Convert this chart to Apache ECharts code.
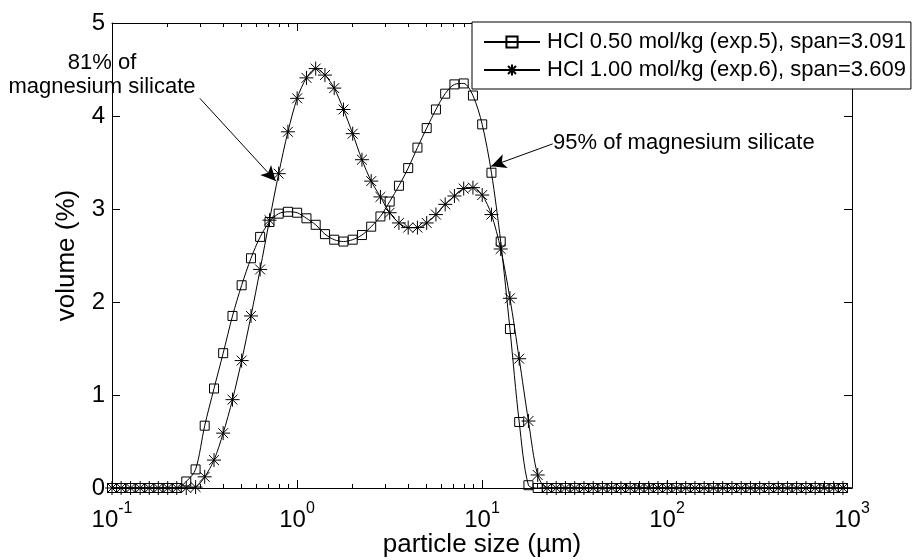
<!DOCTYPE html>
<html><head><meta charset="utf-8">
<script src="https://cdn.jsdelivr.net/npm/echarts@6/dist/echarts.min.js"></script>
<style>html,body{margin:0;padding:0;background:#fff}#c{width:914px;height:560px}</style>
</head><body><div id="c"></div><script>
// ---- data ----
const particleSize = [0.100,0.112,0.126,0.142,0.159,0.178,0.200,0.224,0.252,0.283,0.317,0.356,0.399,0.448,0.502,0.564,0.632,0.710,0.796,0.893,
  1.002,1.125,1.262,1.416,1.589,1.783,2.000,2.244,2.518,2.825,3.170,3.557,3.991,4.477,5.024,5.637,6.325,7.096,7.962,8.934,
  10.024,11.247,12.619,14.159,15.887,17.825,20.000,22.440,25.179,28.251,31.698,35.566,39.905,44.774,50.238,56.368,63.246,70.963,79.621,89.337,
  100.237,112.468,126.191,141.589,158.866,178.250,200.000,224.404,251.785,282.508,316.979,355.656,399.052,447.744,502.377,563.677,632.456,709.627,796.214,893.367,
  1002.374];
const exp5Volume = [0,0,0,0,0,0,0,0,0.07,0.20,0.67,1.07,1.45,1.85,2.18,2.47,2.70,2.86,2.95,2.97,
  2.96,2.90,2.83,2.73,2.67,2.65,2.67,2.72,2.81,2.92,3.08,3.25,3.44,3.66,3.87,4.07,4.24,4.34,4.35,4.22,
  3.91,3.39,2.65,1.71,0.71,0.03,0,0,0,0,0,0,0,0,0,0,0,0,0,0,
  0,0,0,0,0,0,0,0,0,0,0,0,0,0,0,0,0,0,0,0,
  0];
const exp6Volume = [0,0,0,0,0,0,0,0,0,0.01,0.12,0.30,0.59,0.95,1.37,1.85,2.35,2.88,3.38,3.83,
  4.19,4.41,4.51,4.44,4.30,4.07,3.81,3.53,3.30,3.13,2.96,2.85,2.80,2.80,2.85,2.94,3.05,3.14,3.22,3.23,
  3.15,2.94,2.57,2.04,1.39,0.72,0.14,0,0,0,0,0,0,0,0,0,0,0,0,0,
  0,0,0,0,0,0,0,0,0,0,0,0,0,0,0,0,0,0,0,0,
  0];
const seriesNames = ['HCl 0.50 mol/kg (exp.5), span=3.091', 'HCl 1.00 mol/kg (exp.6), span=3.609'];
const xMajorTicks = [0.1, 1, 10, 100, 1000];
const xTickExponents = ['-1', '0', '1', '2', '3'];
const xMinorTicks = [0.2,0.3,0.4,0.5,0.6,0.7,0.8,0.9, 2,3,4,5,6,7,8,9, 20,30,40,50,60,70,80,90, 200,300,400,500,600,700,800,900];
const yTicks = [0, 1, 2, 3, 4, 5];
const xAxisTitle = 'particle size (µm)';
const yAxisTitle = 'volume (%)';
const note81Text = '81% of\nmagnesium silicate';
const note81Arrow = [[0.2985, 4.19], [0.768, 3.30]];
const note95Text = '95% of magnesium silicate';
const note95Arrow = [[24.1, 3.70], [11.21, 3.46]];

// ---- chart ----
const FONT = '"Liberation Sans", Arial, Helvetica, sans-serif';
const BLACK = '#000';
const asteriskPath = 'path://M0,5L10,5M5,0L5,10M1.46,1.46L8.54,8.54M1.46,8.54L8.54,1.46';
const chart = echarts.init(document.getElementById('c'), null, {renderer: 'canvas'});

const logAxisBase = {
  type: 'log', logBase: 10, min: 0.1, max: 1000, gridIndex: 0,
  splitLine: {show: false}, minorSplitLine: {show: false}
};
function xAxisDef(position, minor, showLine, showLabel) {
  return Object.assign({}, logAxisBase, {
    position: position,
    axisLine: {show: showLine, onZero: false, lineStyle: {color: BLACK, width: 1}},
    axisTick: {show: true, inside: true, length: minor ? 4 : 8, customValues: minor ? xMinorTicks : xMajorTicks,
      lineStyle: {color: BLACK, width: 1}},
    axisLabel: showLabel ? {
      show: true, customValues: xMajorTicks, margin: 13,
      formatter: function (v) {
        let idx = 0, best = Infinity;
        xMajorTicks.forEach(function (t, i) { const d = Math.abs(Math.log10(t) - Math.log10(v)); if (d < best) { best = d; idx = i; } });
        return '{b|10}{e|' + xTickExponents[idx] + '}';
      },
      rich: {
        b: {fontSize: 24, fontFamily: FONT, color: BLACK, verticalAlign: 'middle'},
        e: {fontSize: 16, fontFamily: FONT, color: BLACK, verticalAlign: 'middle', padding: [0, 0, 22, 0]}
      }
    } : {show: false}
  });
}
const xAxes = [
  xAxisDef('bottom', false, true, true),
  xAxisDef('bottom', true, false, false),
  xAxisDef('top', false, true, false),
  xAxisDef('top', true, false, false)
];
xAxes[0].name = xAxisTitle;
xAxes[0].nameLocation = 'middle';
xAxes[0].nameGap = 44;
xAxes[0].nameMoveOverlap = false;
xAxes[0].nameTextStyle = {fontSize: 26, fontFamily: FONT, color: BLACK};

function yAxisDef(position, showLabel) {
  return {
    type: 'value', min: yTicks[0], max: yTicks[yTicks.length - 1], interval: 1, position: position, gridIndex: 0,
    splitLine: {show: false},
    axisLine: {show: true, onZero: false, lineStyle: {color: BLACK, width: 1}},
    axisTick: {show: true, inside: true, length: 8, lineStyle: {color: BLACK, width: 1}},
    axisLabel: showLabel ? {show: true, fontSize: 24, fontFamily: FONT, color: BLACK, margin: 7} : {show: false}
  };
}
const yAxes = [yAxisDef('left', true), yAxisDef('right', false)];
yAxes[0].name = yAxisTitle;
yAxes[0].nameLocation = 'middle';
yAxes[0].nameGap = 32;
yAxes[0].nameMoveOverlap = false;
yAxes[0].nameTextStyle = {fontSize: 26, fontFamily: FONT, color: BLACK};

function arrowLine(pair) {
  return [{coord: pair[0]}, {coord: pair[1]}];
}

const option = {
  animation: false,
  backgroundColor: '#fff',
  grid: {left: 112, right: 62, top: 23, bottom: 72, containLabel: false, outerBoundsMode: 'none'},
  legend: {
    orient: 'vertical', left: 472, top: 22,
    padding: [9, 5, 8, 11], itemGap: 6, itemWidth: 56, itemHeight: 14,
    backgroundColor: '#fff', borderColor: BLACK, borderWidth: 1, borderRadius: 0,
    textStyle: {fontSize: 22, fontFamily: FONT, color: BLACK, lineHeight: 22, padding: [0, 0, 0, 2]},
    data: seriesNames
  },
  xAxis: xAxes,
  yAxis: yAxes,
  series: [
    {
      name: seriesNames[0], type: 'line', xAxisIndex: 0, yAxisIndex: 0,
      data: particleSize.map(function (x, i) { return [x, exp5Volume[i]]; }),
      smooth: 0.3, showAllSymbol: true,
      symbol: 'rect', symbolSize: 9,
      itemStyle: {color: 'rgba(255,255,255,0)', borderColor: BLACK, borderWidth: 1},
      lineStyle: {color: BLACK, width: 1},
      emphasis: {disabled: true}, silent: true,
      markLine: {
        silent: true, symbol: ['none', 'arrow'], symbolSize: [11, 15],
        lineStyle: {color: BLACK, width: 1, type: 'solid'},
        itemStyle: {color: BLACK},
        label: {show: false}, emphasis: {disabled: true},
        data: [arrowLine(note81Arrow), arrowLine(note95Arrow)]
      }
    },
    {
      name: seriesNames[1], type: 'line', xAxisIndex: 0, yAxisIndex: 0,
      data: particleSize.map(function (x, i) { return [x, exp6Volume[i]]; }),
      smooth: 0.3, showAllSymbol: true,
      symbol: asteriskPath, symbolSize: 14,
      itemStyle: {color: 'rgba(255,255,255,0)', borderColor: BLACK, borderWidth: 1},
      lineStyle: {color: BLACK, width: 1},
      emphasis: {disabled: true}, silent: true
    }
  ],
  graphic: [
    {type: 'text', silent: true, z: 100, style: {text: note81Text, x: 102, y: 75, align: 'center', verticalAlign: 'middle',
      font: '22px ' + FONT, lineHeight: 24, fill: BLACK}},
    {type: 'text', silent: true, z: 100, style: {text: note95Text, x: 553, y: 143, align: 'left', verticalAlign: 'middle',
      font: '22px ' + FONT, lineHeight: 24, fill: BLACK}}
  ]
};
chart.setOption(option);
</script></body></html>
